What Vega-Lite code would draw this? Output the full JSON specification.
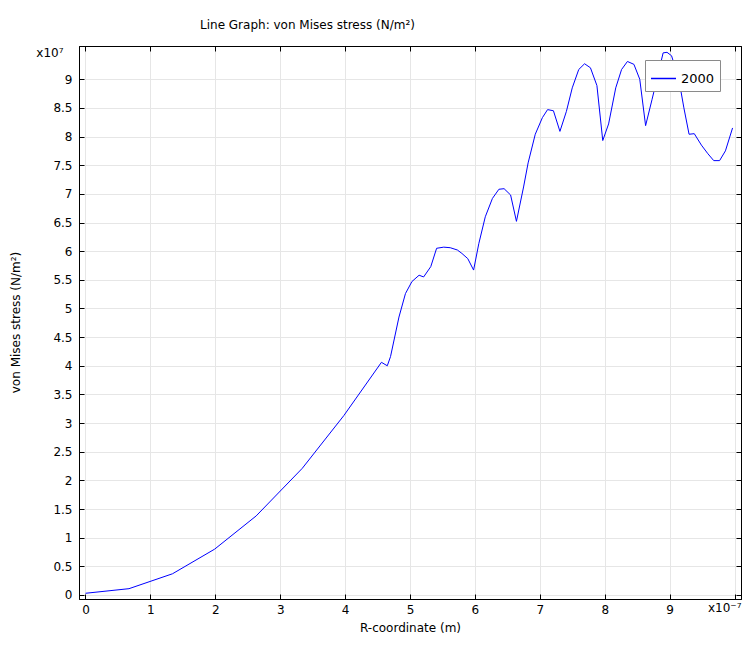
{
  "$schema": "https://vega.github.io/schema/vega-lite/v6.json",
  "autosize": {"type": "none"},
  "width": 662,
  "height": 553,
  "padding": {"left": 79, "top": 46, "right": 12, "bottom": 50},
  "background": "white",
  "title": {
    "text": "Line Graph: von Mises stress (N/m²)",
    "anchor": "start",
    "frame": "group",
    "dx": 121,
    "offset": 14,
    "font": "DejaVu Sans",
    "fontSize": 12,
    "fontWeight": "normal",
    "color": "black"
  },
  "config": {
    "view": {"stroke": "black", "strokeWidth": 1},
    "axis": {
      "labelFont": "DejaVu Sans",
      "labelFontSize": 12,
      "labelColor": "black",
      "titleFont": "DejaVu Sans",
      "titleFontSize": 12,
      "titleFontWeight": "normal",
      "titleColor": "black",
      "domainColor": "black",
      "tickColor": "black",
      "gridColor": "#e6e6e6",
      "gridWidth": 1
    }
  },
  "data": {
    "values": [
      {"r": 0.0, "s": 0.03, "series": "2000"},
      {"r": 0.67, "s": 0.11, "series": "2000"},
      {"r": 1.34, "s": 0.37, "series": "2000"},
      {"r": 1.99, "s": 0.80, "series": "2000"},
      {"r": 2.63, "s": 1.38, "series": "2000"},
      {"r": 3.34, "s": 2.21, "series": "2000"},
      {"r": 3.98, "s": 3.13, "series": "2000"},
      {"r": 4.56, "s": 4.06, "series": "2000"},
      {"r": 4.65, "s": 4.00, "series": "2000"},
      {"r": 4.70, "s": 4.16, "series": "2000"},
      {"r": 4.83, "s": 4.85, "series": "2000"},
      {"r": 4.93, "s": 5.26, "series": "2000"},
      {"r": 5.03, "s": 5.47, "series": "2000"},
      {"r": 5.14, "s": 5.58, "series": "2000"},
      {"r": 5.21, "s": 5.55, "series": "2000"},
      {"r": 5.32, "s": 5.73, "series": "2000"},
      {"r": 5.41, "s": 6.05, "series": "2000"},
      {"r": 5.52, "s": 6.07, "series": "2000"},
      {"r": 5.62, "s": 6.06, "series": "2000"},
      {"r": 5.73, "s": 6.02, "series": "2000"},
      {"r": 5.80, "s": 5.96, "series": "2000"},
      {"r": 5.89, "s": 5.87, "series": "2000"},
      {"r": 5.98, "s": 5.67, "series": "2000"},
      {"r": 6.06, "s": 6.13, "series": "2000"},
      {"r": 6.16, "s": 6.60, "series": "2000"},
      {"r": 6.27, "s": 6.92, "series": "2000"},
      {"r": 6.37, "s": 7.08, "series": "2000"},
      {"r": 6.45, "s": 7.09, "series": "2000"},
      {"r": 6.55, "s": 6.98, "series": "2000"},
      {"r": 6.64, "s": 6.52, "series": "2000"},
      {"r": 6.75, "s": 7.12, "series": "2000"},
      {"r": 6.82, "s": 7.54, "series": "2000"},
      {"r": 6.93, "s": 8.04, "series": "2000"},
      {"r": 7.04, "s": 8.33, "series": "2000"},
      {"r": 7.12, "s": 8.47, "series": "2000"},
      {"r": 7.21, "s": 8.45, "series": "2000"},
      {"r": 7.31, "s": 8.09, "series": "2000"},
      {"r": 7.41, "s": 8.44, "series": "2000"},
      {"r": 7.50, "s": 8.85, "series": "2000"},
      {"r": 7.60, "s": 9.17, "series": "2000"},
      {"r": 7.69, "s": 9.27, "series": "2000"},
      {"r": 7.78, "s": 9.20, "series": "2000"},
      {"r": 7.88, "s": 8.89, "series": "2000"},
      {"r": 7.97, "s": 7.93, "series": "2000"},
      {"r": 8.06, "s": 8.22, "series": "2000"},
      {"r": 8.17, "s": 8.85, "series": "2000"},
      {"r": 8.26, "s": 9.17, "series": "2000"},
      {"r": 8.35, "s": 9.31, "series": "2000"},
      {"r": 8.45, "s": 9.26, "series": "2000"},
      {"r": 8.54, "s": 9.00, "series": "2000"},
      {"r": 8.63, "s": 8.19, "series": "2000"},
      {"r": 8.73, "s": 8.65, "series": "2000"},
      {"r": 8.80, "s": 8.98, "series": "2000"},
      {"r": 8.90, "s": 9.46, "series": "2000"},
      {"r": 8.96, "s": 9.47, "series": "2000"},
      {"r": 9.03, "s": 9.41, "series": "2000"},
      {"r": 9.10, "s": 9.15, "series": "2000"},
      {"r": 9.17, "s": 8.82, "series": "2000"},
      {"r": 9.22, "s": 8.50, "series": "2000"},
      {"r": 9.30, "s": 8.04, "series": "2000"},
      {"r": 9.38, "s": 8.05, "series": "2000"},
      {"r": 9.49, "s": 7.85, "series": "2000"},
      {"r": 9.59, "s": 7.70, "series": "2000"},
      {"r": 9.68, "s": 7.58, "series": "2000"},
      {"r": 9.77, "s": 7.58, "series": "2000"},
      {"r": 9.86, "s": 7.75, "series": "2000"},
      {"r": 9.97, "s": 8.15, "series": "2000"}
    ]
  },
  "layer": [
    {
      "mark": {"type": "line", "strokeWidth": 1, "clip": true},
      "encoding": {
        "x": {
          "field": "r",
          "type": "quantitative",
          "scale": {"domain": [-0.1, 10.1], "nice": false, "zero": false},
          "axis": {
            "orient": "bottom",
            "values": [0, 1, 2, 3, 4, 5, 6, 7, 8, 9, 10],
            "labelExpr": "datum.value == 10 ? '' : datum.label",
            "tickSize": -5,
            "labelPadding": 10,
            "grid": true,
            "title": "R-coordinate (m)",
            "titleX": 331,
            "titleY": 28,
            "titleBaseline": "middle",
            "titleAlign": "center"
          }
        },
        "y": {
          "field": "s",
          "type": "quantitative",
          "scale": {"domain": [-0.07, 9.58], "nice": false, "zero": false},
          "axis": {
            "orient": "left",
            "values": [0, 0.5, 1, 1.5, 2, 2.5, 3, 3.5, 4, 4.5, 5, 5.5, 6, 6.5, 7, 7.5, 8, 8.5, 9],
            "format": "~g",
            "tickSize": -5,
            "labelPadding": 12,
            "grid": true,
            "title": "von Mises stress (N/m²)",
            "titleAngle": -90,
            "titleX": -64,
            "titleY": 276,
            "titleAlign": "center",
            "titleBaseline": "middle"
          }
        },
        "color": {
          "field": "series",
          "type": "nominal",
          "scale": {"range": ["#0000ff"]},
          "legend": {
            "orient": "none",
            "legendX": 566,
            "legendY": 14,
            "title": null,
            "fillColor": "white",
            "strokeColor": "#8a8a8a",
            "padding": 5,
            "symbolType": "stroke",
            "symbolSize": 625,
            "symbolStrokeWidth": 1.5,
            "labelFont": "DejaVu Sans",
            "labelFontSize": 13,
            "labelColor": "black"
          }
        }
      }
    },
    {
      "mark": {"type": "line", "opacity": 0},
      "encoding": {
        "x": {
          "field": "r",
          "type": "quantitative",
          "axis": {
            "orient": "top",
            "values": [0, 1, 2, 3, 4, 5, 6, 7, 8, 9, 10],
            "labels": false,
            "tickSize": -5,
            "grid": false,
            "title": "x10⁷",
            "titleX": -16,
            "titleY": 6,
            "titleAlign": "right",
            "titleBaseline": "middle"
          }
        },
        "y": {
          "field": "s",
          "type": "quantitative",
          "axis": {
            "orient": "right",
            "values": [0, 0.5, 1, 1.5, 2, 2.5, 3, 3.5, 4, 4.5, 5, 5.5, 6, 6.5, 7, 7.5, 8, 8.5, 9],
            "labels": false,
            "tickSize": -5,
            "grid": false,
            "title": "x10⁻⁷",
            "titleAngle": 0,
            "titleX": 0,
            "titleY": 561,
            "titleAlign": "right",
            "titleBaseline": "middle"
          }
        }
      }
    }
  ],
  "resolve": {"axis": {"x": "independent", "y": "independent"}}
}
